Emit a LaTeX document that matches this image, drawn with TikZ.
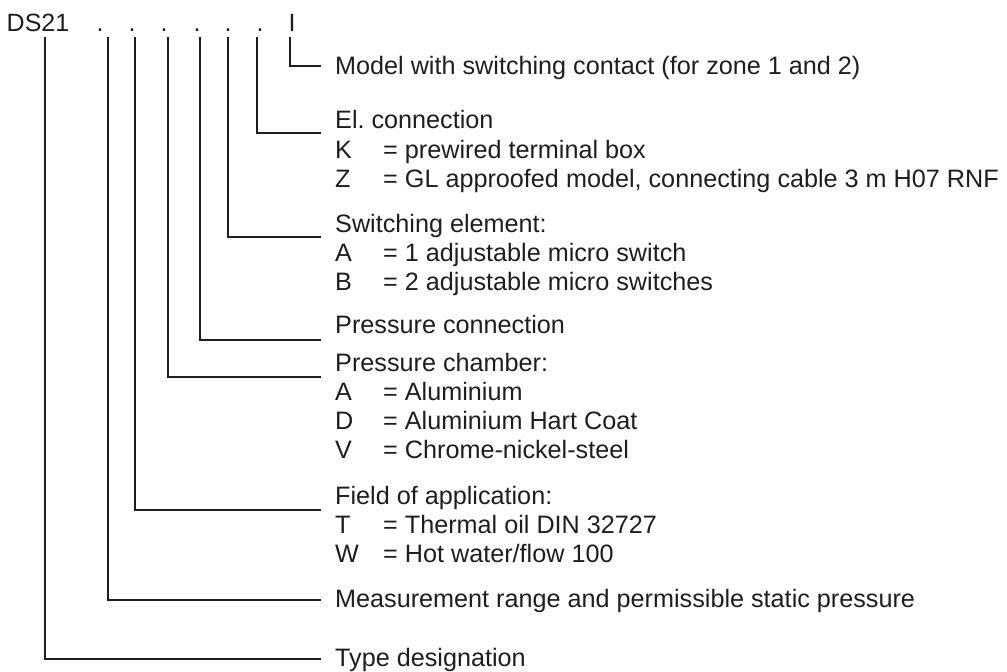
\documentclass[tikz,border=0pt]{standalone}
\usepackage{fontspec}
\setmainfont{Liberation Sans}
\usetikzlibrary{positioning}
\usepackage{xcolor}
\definecolor{ink}{RGB}{30,30,30}
\newcommand{\codeopt}[2]{\makebox[48pt][l]{#1}= #2}
\frenchspacing

\begin{document}
\begin{tikzpicture}[x=1pt, y=-1pt,
      code/.style={anchor=base, inner sep=0pt, text depth=6pt, font=\fontsize{25}{25}\selectfont, text=ink},
      label/.style={anchor=base west, inner sep=0pt, font=\fontsize{25.2}{29}\selectfont, text=ink},
      lead/.style={draw=ink, line width=1.2pt}
   ]
      \useasboundingbox (0,0) rectangle (1007,672);

      % Order code (top row)
      \node (ds) [code] at (38,31)  {DS21};
      \node (d1) [code] at (100,31) {.};
      \node (d2) [code] at (132,31) {.};
      \node (d3) [code] at (164,31) {.};
      \node (d4) [code] at (197,31) {.};
      \node (d5) [code] at (228,31) {.};
      \node (d6) [code] at (260,31) {.};
      \node (di) [code] at (292,31) {I};

      % Explanations (right column)
      \node (model) [label] at (335,74)  {Model with switching contact (for zone 1 and 2)};
      \node (el)    [label] at (335,128) {El. connection};
      \node (elK)   [label] at (335,158) {\codeopt{K}{prewired terminal box}};
      \node (elZ)   [label] at (335,187) {\codeopt{Z}{GL approofed model, connecting cable 3 m H07 RNF}};
      \node (sw)    [label] at (335,232) {Switching element:};
      \node (swA)   [label] at (335,261) {\codeopt{A}{1 adjustable micro switch}};
      \node (swB)   [label] at (335,290) {\codeopt{B}{2 adjustable micro switches}};
      \node (pc)    [label] at (335,333) {Pressure connection};
      \node (ch)    [label] at (335,371) {Pressure chamber:};
      \node (chA)   [label] at (335,400) {\codeopt{A}{Aluminium}};
      \node (chD)   [label] at (335,429) {\codeopt{D}{Aluminium Hart Coat}};
      \node (chV)   [label] at (335,458) {\codeopt{V}{Chrome-nickel-steel}};
      \node (fa)    [label] at (335,504) {Field of application:};
      \node (faT)   [label] at (335,533) {\codeopt{T}{Thermal oil DIN 32727}};
      \node (faW)   [label] at (335,562) {\codeopt{W}{Hot water/flow 100}};
      \node (mr)    [label] at (335,607) {Measurement range and permissible static pressure};
      \node (td)    [label] at (335,666) {Type designation};

      % Ends of the leader lines, just left of the texts
      \coordinate (modelEnd) at (321,66);
      \coordinate (elEnd)    at (321,133);
      \coordinate (swEnd)    at (321,237);
      \coordinate (pcEnd)    at (321,340);
      \coordinate (chEnd)    at (321,377);
      \coordinate (faEnd)    at (321,510);
      \coordinate (mrEnd)    at (321,600);
      \coordinate (tdEnd)    at (321,659);

      % Leader lines
      \draw[lead] ([xshift=-2pt]di.south) |- (modelEnd);
      \draw[lead] ([xshift=-3pt]d6.south) |- (elEnd);
      \draw[lead] (d5.south)              |- (swEnd);
      \draw[lead] ([xshift=3pt]d4.south)  |- (pcEnd);
      \draw[lead] ([xshift=4pt]d3.south)  |- (chEnd);
      \draw[lead] ([xshift=3pt]d2.south)  |- (faEnd);
      \draw[lead] ([xshift=8pt]d1.south)  |- (mrEnd);
      \draw[lead] ([xshift=7pt]ds.south)  |- (tdEnd);
   \end{tikzpicture}
\end{document}
